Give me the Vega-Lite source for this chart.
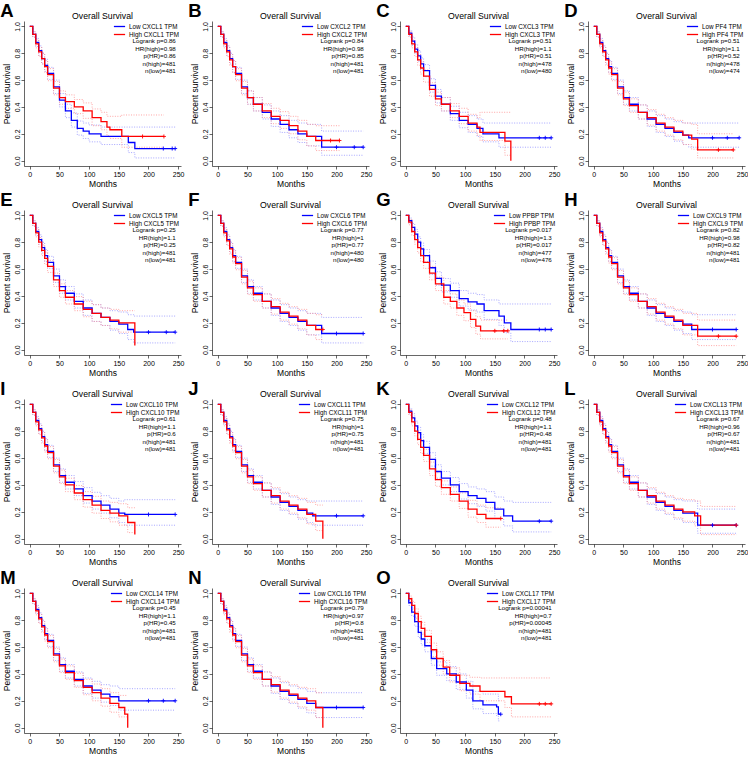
{
"$schema":"https://vega.github.io/schema/vega-lite/v6.json",
"padding":{"left":0,"top":2,"right":0,"bottom":0},
"background":"white",
"config":{
 "font":"Liberation Sans",
 "view":{"stroke":null},
 "axis":{"grid":false,"labelFontSize":7,"titleFontSize":8.5,"titleFontWeight":"normal","labelColor":"black","titleColor":"black","domainColor":"black","tickColor":"black","tickSize":3,"domainWidth":0.6,"tickWidth":0.6,"labelPadding":1,"labelFlush":false,"titlePadding":2},
 "axisY":{"labelAngle":-90},
 "legend":{"orient":"top-right","offset":1,"symbolType":"M-1.6,0H1.6","symbolSize":49,"symbolStrokeWidth":1.3,"labelFontSize":6.3,"labelColor":"black","rowPadding":0,"padding":0,"labelOffset":5}
},
"columns":4,
"spacing":{"row":44,"column":31},
"bounds":"flush",
"resolve":{"scale":{"color":"independent","stroke":"independent","x":"independent","y":"independent"},"legend":{"color":"independent"}},
"datasets":{
"km":[
{"p":"A","g":"L","t":0,"s":1,"u":1,"l":1},{"p":"A","g":"L","t":5,"s":0.94,"u":0.96,"l":0.92},{"p":"A","g":"L","t":10,"s":0.88,"u":0.91,"l":0.85},{"p":"A","g":"L","t":15,"s":0.82,"u":0.855,"l":0.785},{"p":"A","g":"L","t":20,"s":0.76,"u":0.8,"l":0.72},{"p":"A","g":"L","t":25,"s":0.71,"u":0.755,"l":0.665},{"p":"A","g":"L","t":30,"s":0.65,"u":0.695,"l":0.605},{"p":"A","g":"L","t":40,"s":0.55,"u":0.6,"l":0.5},{"p":"A","g":"L","t":50,"s":0.45,"u":0.5,"l":0.4},{"p":"A","g":"L","t":60,"s":0.37,"u":0.42,"l":0.32},{"p":"A","g":"L","t":70,"s":0.3,"u":0.355,"l":0.25},{"p":"A","g":"L","t":80,"s":0.24,"u":0.295,"l":0.19},{"p":"A","g":"L","t":90,"s":0.22,"u":0.28,"l":0.165},{"p":"A","g":"L","t":100,"s":0.2,"u":0.265,"l":0.14},{"p":"A","g":"L","t":120,"s":0.18,"u":0.25,"l":0.12},{"p":"A","g":"L","t":166,"s":0.135,"u":0.25,"l":0.06},{"p":"A","g":"L","t":177,"s":0.09,"u":0.25,"l":0.02},{"p":"A","g":"L","t":225,"s":0.09,"u":0.25,"l":0.02,"c":1},{"p":"A","g":"L","t":240,"s":0.09,"u":0.25,"l":0.02,"c":1},{"p":"A","g":"L","t":245,"s":0.09,"u":0.25,"l":0.02,"c":1},
{"p":"A","g":"H","t":0,"s":1,"u":1,"l":1},{"p":"A","g":"H","t":5,"s":0.94,"u":0.96,"l":0.92},{"p":"A","g":"H","t":10,"s":0.87,"u":0.9,"l":0.84},{"p":"A","g":"H","t":15,"s":0.81,"u":0.845,"l":0.775},{"p":"A","g":"H","t":20,"s":0.76,"u":0.8,"l":0.72},{"p":"A","g":"H","t":25,"s":0.7,"u":0.745,"l":0.655},{"p":"A","g":"H","t":30,"s":0.64,"u":0.685,"l":0.595},{"p":"A","g":"H","t":40,"s":0.54,"u":0.59,"l":0.49},{"p":"A","g":"H","t":50,"s":0.47,"u":0.52,"l":0.42},{"p":"A","g":"H","t":60,"s":0.44,"u":0.49,"l":0.39},{"p":"A","g":"H","t":75,"s":0.4,"u":0.455,"l":0.35},{"p":"A","g":"H","t":90,"s":0.37,"u":0.43,"l":0.315},{"p":"A","g":"H","t":105,"s":0.32,"u":0.385,"l":0.26},{"p":"A","g":"H","t":120,"s":0.29,"u":0.36,"l":0.23},{"p":"A","g":"H","t":130,"s":0.25,"u":0.33,"l":0.185},{"p":"A","g":"H","t":135,"s":0.23,"u":0.33,"l":0.165},{"p":"A","g":"H","t":155,"s":0.18,"u":0.34,"l":0.1},{"p":"A","g":"H","t":190,"s":0.18,"u":0.34,"l":0.1,"c":1},{"p":"A","g":"H","t":226,"s":0.18,"u":0.34,"l":0.1,"c":1},
{"p":"B","g":"L","t":0,"s":1,"u":1,"l":1},{"p":"B","g":"L","t":5,"s":0.94,"u":0.96,"l":0.92},{"p":"B","g":"L","t":10,"s":0.88,"u":0.91,"l":0.85},{"p":"B","g":"L","t":15,"s":0.82,"u":0.855,"l":0.785},{"p":"B","g":"L","t":20,"s":0.76,"u":0.8,"l":0.72},{"p":"B","g":"L","t":25,"s":0.7,"u":0.745,"l":0.655},{"p":"B","g":"L","t":30,"s":0.65,"u":0.695,"l":0.605},{"p":"B","g":"L","t":40,"s":0.55,"u":0.6,"l":0.5},{"p":"B","g":"L","t":50,"s":0.47,"u":0.52,"l":0.42},{"p":"B","g":"L","t":60,"s":0.42,"u":0.47,"l":0.37},{"p":"B","g":"L","t":75,"s":0.36,"u":0.415,"l":0.31},{"p":"B","g":"L","t":90,"s":0.31,"u":0.37,"l":0.255},{"p":"B","g":"L","t":105,"s":0.27,"u":0.335,"l":0.21},{"p":"B","g":"L","t":120,"s":0.23,"u":0.3,"l":0.17},{"p":"B","g":"L","t":135,"s":0.2,"u":0.28,"l":0.135},{"p":"B","g":"L","t":150,"s":0.18,"u":0.27,"l":0.11},{"p":"B","g":"L","t":175,"s":0.1,"u":0.22,"l":0.04},{"p":"B","g":"L","t":200,"s":0.1,"u":0.22,"l":0.04,"c":1},{"p":"B","g":"L","t":230,"s":0.1,"u":0.22,"l":0.04,"c":1},{"p":"B","g":"L","t":245,"s":0.1,"u":0.22,"l":0.04,"c":1},
{"p":"B","g":"H","t":0,"s":1,"u":1,"l":1},{"p":"B","g":"H","t":5,"s":0.94,"u":0.96,"l":0.92},{"p":"B","g":"H","t":10,"s":0.87,"u":0.9,"l":0.84},{"p":"B","g":"H","t":15,"s":0.81,"u":0.845,"l":0.775},{"p":"B","g":"H","t":20,"s":0.75,"u":0.79,"l":0.71},{"p":"B","g":"H","t":25,"s":0.7,"u":0.745,"l":0.655},{"p":"B","g":"H","t":30,"s":0.64,"u":0.685,"l":0.595},{"p":"B","g":"H","t":40,"s":0.54,"u":0.59,"l":0.49},{"p":"B","g":"H","t":50,"s":0.47,"u":0.52,"l":0.42},{"p":"B","g":"H","t":60,"s":0.42,"u":0.47,"l":0.37},{"p":"B","g":"H","t":75,"s":0.37,"u":0.425,"l":0.32},{"p":"B","g":"H","t":90,"s":0.33,"u":0.39,"l":0.275},{"p":"B","g":"H","t":105,"s":0.3,"u":0.365,"l":0.24},{"p":"B","g":"H","t":120,"s":0.26,"u":0.33,"l":0.2},{"p":"B","g":"H","t":135,"s":0.22,"u":0.3,"l":0.155},{"p":"B","g":"H","t":150,"s":0.18,"u":0.27,"l":0.11},{"p":"B","g":"H","t":165,"s":0.15,"u":0.26,"l":0.075},{"p":"B","g":"H","t":190,"s":0.15,"u":0.26,"l":0.075,"c":1},{"p":"B","g":"H","t":205,"s":0.15,"u":0.26,"l":0.075,"c":1},
{"p":"C","g":"L","t":0,"s":1,"u":1,"l":1},{"p":"C","g":"L","t":5,"s":0.95,"u":0.97,"l":0.93},{"p":"C","g":"L","t":10,"s":0.89,"u":0.92,"l":0.86},{"p":"C","g":"L","t":15,"s":0.83,"u":0.865,"l":0.795},{"p":"C","g":"L","t":20,"s":0.78,"u":0.82,"l":0.74},{"p":"C","g":"L","t":25,"s":0.72,"u":0.765,"l":0.675},{"p":"C","g":"L","t":30,"s":0.67,"u":0.715,"l":0.625},{"p":"C","g":"L","t":40,"s":0.56,"u":0.61,"l":0.51},{"p":"C","g":"L","t":50,"s":0.48,"u":0.53,"l":0.43},{"p":"C","g":"L","t":60,"s":0.42,"u":0.47,"l":0.37},{"p":"C","g":"L","t":75,"s":0.35,"u":0.405,"l":0.3},{"p":"C","g":"L","t":90,"s":0.3,"u":0.36,"l":0.245},{"p":"C","g":"L","t":105,"s":0.27,"u":0.335,"l":0.21},{"p":"C","g":"L","t":120,"s":0.24,"u":0.31,"l":0.18},{"p":"C","g":"L","t":130,"s":0.2,"u":0.28,"l":0.14},{"p":"C","g":"L","t":157,"s":0.17,"u":0.28,"l":0.1},{"p":"C","g":"L","t":225,"s":0.17,"u":0.28,"l":0.1,"c":1},{"p":"C","g":"L","t":235,"s":0.17,"u":0.28,"l":0.1,"c":1},{"p":"C","g":"L","t":245,"s":0.17,"u":0.28,"l":0.1,"c":1},
{"p":"C","g":"H","t":0,"s":1,"u":1,"l":1},{"p":"C","g":"H","t":5,"s":0.94,"u":0.96,"l":0.92},{"p":"C","g":"H","t":10,"s":0.87,"u":0.9,"l":0.84},{"p":"C","g":"H","t":15,"s":0.81,"u":0.845,"l":0.775},{"p":"C","g":"H","t":20,"s":0.75,"u":0.79,"l":0.71},{"p":"C","g":"H","t":25,"s":0.69,"u":0.735,"l":0.645},{"p":"C","g":"H","t":30,"s":0.63,"u":0.675,"l":0.585},{"p":"C","g":"H","t":40,"s":0.53,"u":0.58,"l":0.48},{"p":"C","g":"H","t":50,"s":0.46,"u":0.51,"l":0.41},{"p":"C","g":"H","t":60,"s":0.42,"u":0.47,"l":0.37},{"p":"C","g":"H","t":75,"s":0.37,"u":0.425,"l":0.32},{"p":"C","g":"H","t":90,"s":0.33,"u":0.39,"l":0.275},{"p":"C","g":"H","t":105,"s":0.28,"u":0.345,"l":0.22},{"p":"C","g":"H","t":120,"s":0.25,"u":0.32,"l":0.19},{"p":"C","g":"H","t":125,"s":0.21,"u":0.36,"l":0.15},{"p":"C","g":"H","t":167,"s":0.145,"u":0.36,"l":0.04},{"p":"C","g":"H","t":177,"s":0,"u":0.36,"l":0.04},
{"p":"D","g":"L","t":0,"s":1,"u":1,"l":1},{"p":"D","g":"L","t":5,"s":0.94,"u":0.96,"l":0.92},{"p":"D","g":"L","t":10,"s":0.88,"u":0.91,"l":0.85},{"p":"D","g":"L","t":15,"s":0.82,"u":0.855,"l":0.785},{"p":"D","g":"L","t":20,"s":0.76,"u":0.8,"l":0.72},{"p":"D","g":"L","t":25,"s":0.7,"u":0.745,"l":0.655},{"p":"D","g":"L","t":30,"s":0.65,"u":0.695,"l":0.605},{"p":"D","g":"L","t":40,"s":0.55,"u":0.6,"l":0.5},{"p":"D","g":"L","t":50,"s":0.47,"u":0.52,"l":0.42},{"p":"D","g":"L","t":60,"s":0.42,"u":0.47,"l":0.37},{"p":"D","g":"L","t":75,"s":0.36,"u":0.415,"l":0.31},{"p":"D","g":"L","t":90,"s":0.31,"u":0.37,"l":0.255},{"p":"D","g":"L","t":105,"s":0.27,"u":0.335,"l":0.21},{"p":"D","g":"L","t":120,"s":0.24,"u":0.31,"l":0.18},{"p":"D","g":"L","t":135,"s":0.21,"u":0.29,"l":0.145},{"p":"D","g":"L","t":150,"s":0.19,"u":0.28,"l":0.12},{"p":"D","g":"L","t":160,"s":0.17,"u":0.28,"l":0.1},{"p":"D","g":"L","t":200,"s":0.17,"u":0.28,"l":0.1,"c":1},{"p":"D","g":"L","t":225,"s":0.17,"u":0.28,"l":0.1,"c":1},{"p":"D","g":"L","t":245,"s":0.17,"u":0.28,"l":0.1,"c":1},
{"p":"D","g":"H","t":0,"s":1,"u":1,"l":1},{"p":"D","g":"H","t":5,"s":0.94,"u":0.96,"l":0.92},{"p":"D","g":"H","t":10,"s":0.87,"u":0.9,"l":0.84},{"p":"D","g":"H","t":15,"s":0.81,"u":0.845,"l":0.775},{"p":"D","g":"H","t":20,"s":0.75,"u":0.79,"l":0.71},{"p":"D","g":"H","t":25,"s":0.69,"u":0.735,"l":0.645},{"p":"D","g":"H","t":30,"s":0.64,"u":0.685,"l":0.595},{"p":"D","g":"H","t":40,"s":0.54,"u":0.59,"l":0.49},{"p":"D","g":"H","t":50,"s":0.46,"u":0.51,"l":0.41},{"p":"D","g":"H","t":60,"s":0.41,"u":0.46,"l":0.36},{"p":"D","g":"H","t":75,"s":0.36,"u":0.415,"l":0.31},{"p":"D","g":"H","t":90,"s":0.32,"u":0.38,"l":0.265},{"p":"D","g":"H","t":105,"s":0.28,"u":0.345,"l":0.22},{"p":"D","g":"H","t":120,"s":0.25,"u":0.32,"l":0.19},{"p":"D","g":"H","t":135,"s":0.22,"u":0.3,"l":0.155},{"p":"D","g":"H","t":150,"s":0.19,"u":0.28,"l":0.12},{"p":"D","g":"H","t":165,"s":0.16,"u":0.27,"l":0.085},{"p":"D","g":"H","t":175,"s":0.08,"u":0.2,"l":0.02},{"p":"D","g":"H","t":210,"s":0.08,"u":0.2,"l":0.02,"c":1},{"p":"D","g":"H","t":235,"s":0.08,"u":0.2,"l":0.02,"c":1},
{"p":"E","g":"L","t":0,"s":1,"u":1,"l":1},{"p":"E","g":"L","t":5,"s":0.94,"u":0.96,"l":0.92},{"p":"E","g":"L","t":10,"s":0.88,"u":0.91,"l":0.85},{"p":"E","g":"L","t":15,"s":0.82,"u":0.855,"l":0.785},{"p":"E","g":"L","t":20,"s":0.76,"u":0.8,"l":0.72},{"p":"E","g":"L","t":25,"s":0.7,"u":0.745,"l":0.655},{"p":"E","g":"L","t":30,"s":0.65,"u":0.695,"l":0.605},{"p":"E","g":"L","t":40,"s":0.55,"u":0.6,"l":0.5},{"p":"E","g":"L","t":50,"s":0.47,"u":0.52,"l":0.42},{"p":"E","g":"L","t":60,"s":0.42,"u":0.47,"l":0.37},{"p":"E","g":"L","t":75,"s":0.36,"u":0.415,"l":0.31},{"p":"E","g":"L","t":90,"s":0.31,"u":0.37,"l":0.255},{"p":"E","g":"L","t":105,"s":0.27,"u":0.335,"l":0.21},{"p":"E","g":"L","t":120,"s":0.24,"u":0.31,"l":0.18},{"p":"E","g":"L","t":135,"s":0.21,"u":0.29,"l":0.145},{"p":"E","g":"L","t":150,"s":0.19,"u":0.28,"l":0.12},{"p":"E","g":"L","t":165,"s":0.15,"u":0.26,"l":0.075},{"p":"E","g":"L","t":175,"s":0.13,"u":0.25,"l":0.05},{"p":"E","g":"L","t":200,"s":0.13,"u":0.25,"l":0.05,"c":1},{"p":"E","g":"L","t":230,"s":0.13,"u":0.25,"l":0.05,"c":1},{"p":"E","g":"L","t":245,"s":0.13,"u":0.25,"l":0.05,"c":1},
{"p":"E","g":"H","t":0,"s":1,"u":1,"l":1},{"p":"E","g":"H","t":5,"s":0.94,"u":0.96,"l":0.92},{"p":"E","g":"H","t":10,"s":0.87,"u":0.9,"l":0.84},{"p":"E","g":"H","t":15,"s":0.8,"u":0.835,"l":0.765},{"p":"E","g":"H","t":20,"s":0.74,"u":0.78,"l":0.7},{"p":"E","g":"H","t":25,"s":0.68,"u":0.725,"l":0.635},{"p":"E","g":"H","t":30,"s":0.62,"u":0.665,"l":0.575},{"p":"E","g":"H","t":40,"s":0.52,"u":0.57,"l":0.47},{"p":"E","g":"H","t":50,"s":0.44,"u":0.49,"l":0.39},{"p":"E","g":"H","t":60,"s":0.39,"u":0.44,"l":0.34},{"p":"E","g":"H","t":75,"s":0.34,"u":0.395,"l":0.29},{"p":"E","g":"H","t":90,"s":0.3,"u":0.36,"l":0.245},{"p":"E","g":"H","t":105,"s":0.27,"u":0.335,"l":0.21},{"p":"E","g":"H","t":120,"s":0.24,"u":0.31,"l":0.18},{"p":"E","g":"H","t":135,"s":0.22,"u":0.3,"l":0.155},{"p":"E","g":"H","t":150,"s":0.2,"u":0.29,"l":0.13},{"p":"E","g":"H","t":177,"s":0.03,"u":0.29,"l":0.13},
{"p":"F","g":"L","t":0,"s":1,"u":1,"l":1},{"p":"F","g":"L","t":5,"s":0.94,"u":0.96,"l":0.92},{"p":"F","g":"L","t":10,"s":0.88,"u":0.91,"l":0.85},{"p":"F","g":"L","t":15,"s":0.82,"u":0.855,"l":0.785},{"p":"F","g":"L","t":20,"s":0.76,"u":0.8,"l":0.72},{"p":"F","g":"L","t":25,"s":0.7,"u":0.745,"l":0.655},{"p":"F","g":"L","t":30,"s":0.65,"u":0.695,"l":0.605},{"p":"F","g":"L","t":40,"s":0.55,"u":0.6,"l":0.5},{"p":"F","g":"L","t":50,"s":0.47,"u":0.52,"l":0.42},{"p":"F","g":"L","t":60,"s":0.42,"u":0.47,"l":0.37},{"p":"F","g":"L","t":75,"s":0.36,"u":0.415,"l":0.31},{"p":"F","g":"L","t":90,"s":0.31,"u":0.37,"l":0.255},{"p":"F","g":"L","t":105,"s":0.27,"u":0.335,"l":0.21},{"p":"F","g":"L","t":120,"s":0.24,"u":0.31,"l":0.18},{"p":"F","g":"L","t":135,"s":0.21,"u":0.29,"l":0.145},{"p":"F","g":"L","t":150,"s":0.18,"u":0.27,"l":0.11},{"p":"F","g":"L","t":175,"s":0.12,"u":0.24,"l":0.05},{"p":"F","g":"L","t":200,"s":0.12,"u":0.24,"l":0.05,"c":1},{"p":"F","g":"L","t":245,"s":0.12,"u":0.24,"l":0.05,"c":1},
{"p":"F","g":"H","t":0,"s":1,"u":1,"l":1},{"p":"F","g":"H","t":5,"s":0.94,"u":0.96,"l":0.92},{"p":"F","g":"H","t":10,"s":0.87,"u":0.9,"l":0.84},{"p":"F","g":"H","t":15,"s":0.81,"u":0.845,"l":0.775},{"p":"F","g":"H","t":20,"s":0.75,"u":0.79,"l":0.71},{"p":"F","g":"H","t":25,"s":0.69,"u":0.735,"l":0.645},{"p":"F","g":"H","t":30,"s":0.64,"u":0.685,"l":0.595},{"p":"F","g":"H","t":40,"s":0.54,"u":0.59,"l":0.49},{"p":"F","g":"H","t":50,"s":0.46,"u":0.51,"l":0.41},{"p":"F","g":"H","t":60,"s":0.41,"u":0.46,"l":0.36},{"p":"F","g":"H","t":75,"s":0.36,"u":0.415,"l":0.31},{"p":"F","g":"H","t":90,"s":0.32,"u":0.38,"l":0.265},{"p":"F","g":"H","t":105,"s":0.28,"u":0.345,"l":0.22},{"p":"F","g":"H","t":120,"s":0.25,"u":0.32,"l":0.19},{"p":"F","g":"H","t":135,"s":0.22,"u":0.3,"l":0.155},{"p":"F","g":"H","t":150,"s":0.18,"u":0.27,"l":0.11},{"p":"F","g":"H","t":165,"s":0.15,"u":0.26,"l":0.075},{"p":"F","g":"H","t":177,"s":0.15,"u":0.26,"l":0.075,"c":1},
{"p":"G","g":"L","t":0,"s":1,"u":1,"l":1},{"p":"G","g":"L","t":5,"s":0.96,"u":0.98,"l":0.94},{"p":"G","g":"L","t":10,"s":0.91,"u":0.94,"l":0.88},{"p":"G","g":"L","t":15,"s":0.86,"u":0.895,"l":0.825},{"p":"G","g":"L","t":20,"s":0.8,"u":0.84,"l":0.76},{"p":"G","g":"L","t":25,"s":0.75,"u":0.795,"l":0.705},{"p":"G","g":"L","t":30,"s":0.7,"u":0.745,"l":0.655},{"p":"G","g":"L","t":40,"s":0.61,"u":0.66,"l":0.56},{"p":"G","g":"L","t":50,"s":0.53,"u":0.58,"l":0.48},{"p":"G","g":"L","t":60,"s":0.48,"u":0.53,"l":0.43},{"p":"G","g":"L","t":75,"s":0.44,"u":0.495,"l":0.39},{"p":"G","g":"L","t":90,"s":0.38,"u":0.44,"l":0.325},{"p":"G","g":"L","t":105,"s":0.355,"u":0.42,"l":0.295},{"p":"G","g":"L","t":120,"s":0.34,"u":0.41,"l":0.28},{"p":"G","g":"L","t":132,"s":0.29,"u":0.37,"l":0.225},{"p":"G","g":"L","t":157,"s":0.25,"u":0.34,"l":0.18},{"p":"G","g":"L","t":166,"s":0.2,"u":0.34,"l":0.125},{"p":"G","g":"L","t":177,"s":0.15,"u":0.34,"l":0.06},{"p":"G","g":"L","t":225,"s":0.15,"u":0.34,"l":0.06,"c":1},{"p":"G","g":"L","t":235,"s":0.15,"u":0.34,"l":0.06,"c":1},{"p":"G","g":"L","t":245,"s":0.15,"u":0.34,"l":0.06,"c":1},
{"p":"G","g":"H","t":0,"s":1,"u":1,"l":1},{"p":"G","g":"H","t":5,"s":0.95,"u":0.97,"l":0.93},{"p":"G","g":"H","t":10,"s":0.88,"u":0.91,"l":0.85},{"p":"G","g":"H","t":15,"s":0.82,"u":0.855,"l":0.785},{"p":"G","g":"H","t":20,"s":0.76,"u":0.8,"l":0.72},{"p":"G","g":"H","t":25,"s":0.7,"u":0.745,"l":0.655},{"p":"G","g":"H","t":30,"s":0.65,"u":0.695,"l":0.605},{"p":"G","g":"H","t":40,"s":0.57,"u":0.62,"l":0.52},{"p":"G","g":"H","t":50,"s":0.49,"u":0.54,"l":0.44},{"p":"G","g":"H","t":64,"s":0.39,"u":0.44,"l":0.34},{"p":"G","g":"H","t":75,"s":0.36,"u":0.415,"l":0.31},{"p":"G","g":"H","t":86,"s":0.31,"u":0.37,"l":0.255},{"p":"G","g":"H","t":98,"s":0.275,"u":0.34,"l":0.215},{"p":"G","g":"H","t":109,"s":0.225,"u":0.29,"l":0.165},{"p":"G","g":"H","t":118,"s":0.175,"u":0.245,"l":0.115},{"p":"G","g":"H","t":126,"s":0.14,"u":0.22,"l":0.08},{"p":"G","g":"H","t":150,"s":0.14,"u":0.22,"l":0.08,"c":1},{"p":"G","g":"H","t":165,"s":0.14,"u":0.22,"l":0.08,"c":1},{"p":"G","g":"H","t":172,"s":0.14,"u":0.22,"l":0.08,"c":1},
{"p":"H","g":"L","t":0,"s":1,"u":1,"l":1},{"p":"H","g":"L","t":5,"s":0.94,"u":0.96,"l":0.92},{"p":"H","g":"L","t":10,"s":0.88,"u":0.91,"l":0.85},{"p":"H","g":"L","t":15,"s":0.82,"u":0.855,"l":0.785},{"p":"H","g":"L","t":20,"s":0.76,"u":0.8,"l":0.72},{"p":"H","g":"L","t":25,"s":0.7,"u":0.745,"l":0.655},{"p":"H","g":"L","t":30,"s":0.65,"u":0.695,"l":0.605},{"p":"H","g":"L","t":40,"s":0.55,"u":0.6,"l":0.5},{"p":"H","g":"L","t":50,"s":0.47,"u":0.52,"l":0.42},{"p":"H","g":"L","t":60,"s":0.42,"u":0.47,"l":0.37},{"p":"H","g":"L","t":75,"s":0.36,"u":0.415,"l":0.31},{"p":"H","g":"L","t":90,"s":0.31,"u":0.37,"l":0.255},{"p":"H","g":"L","t":105,"s":0.27,"u":0.335,"l":0.21},{"p":"H","g":"L","t":120,"s":0.24,"u":0.31,"l":0.18},{"p":"H","g":"L","t":135,"s":0.21,"u":0.29,"l":0.145},{"p":"H","g":"L","t":150,"s":0.19,"u":0.28,"l":0.12},{"p":"H","g":"L","t":165,"s":0.15,"u":0.26,"l":0.075},{"p":"H","g":"L","t":200,"s":0.15,"u":0.26,"l":0.075,"c":1},{"p":"H","g":"L","t":240,"s":0.15,"u":0.26,"l":0.075,"c":1},
{"p":"H","g":"H","t":0,"s":1,"u":1,"l":1},{"p":"H","g":"H","t":5,"s":0.94,"u":0.96,"l":0.92},{"p":"H","g":"H","t":10,"s":0.87,"u":0.9,"l":0.84},{"p":"H","g":"H","t":15,"s":0.81,"u":0.845,"l":0.775},{"p":"H","g":"H","t":20,"s":0.75,"u":0.79,"l":0.71},{"p":"H","g":"H","t":25,"s":0.69,"u":0.735,"l":0.645},{"p":"H","g":"H","t":30,"s":0.64,"u":0.685,"l":0.595},{"p":"H","g":"H","t":40,"s":0.54,"u":0.59,"l":0.49},{"p":"H","g":"H","t":50,"s":0.46,"u":0.51,"l":0.41},{"p":"H","g":"H","t":60,"s":0.41,"u":0.46,"l":0.36},{"p":"H","g":"H","t":75,"s":0.36,"u":0.415,"l":0.31},{"p":"H","g":"H","t":90,"s":0.32,"u":0.38,"l":0.265},{"p":"H","g":"H","t":105,"s":0.28,"u":0.345,"l":0.22},{"p":"H","g":"H","t":120,"s":0.25,"u":0.32,"l":0.19},{"p":"H","g":"H","t":135,"s":0.22,"u":0.3,"l":0.155},{"p":"H","g":"H","t":150,"s":0.18,"u":0.27,"l":0.11},{"p":"H","g":"H","t":175,"s":0.1,"u":0.22,"l":0.03},{"p":"H","g":"H","t":210,"s":0.1,"u":0.22,"l":0.03,"c":1},{"p":"H","g":"H","t":240,"s":0.1,"u":0.22,"l":0.03,"c":1},
{"p":"I","g":"L","t":0,"s":1,"u":1,"l":1},{"p":"I","g":"L","t":5,"s":0.94,"u":0.96,"l":0.92},{"p":"I","g":"L","t":10,"s":0.88,"u":0.91,"l":0.85},{"p":"I","g":"L","t":15,"s":0.82,"u":0.855,"l":0.785},{"p":"I","g":"L","t":20,"s":0.76,"u":0.8,"l":0.72},{"p":"I","g":"L","t":25,"s":0.7,"u":0.745,"l":0.655},{"p":"I","g":"L","t":30,"s":0.65,"u":0.695,"l":0.605},{"p":"I","g":"L","t":40,"s":0.55,"u":0.6,"l":0.5},{"p":"I","g":"L","t":50,"s":0.47,"u":0.52,"l":0.42},{"p":"I","g":"L","t":60,"s":0.42,"u":0.47,"l":0.37},{"p":"I","g":"L","t":75,"s":0.37,"u":0.425,"l":0.32},{"p":"I","g":"L","t":90,"s":0.32,"u":0.38,"l":0.265},{"p":"I","g":"L","t":105,"s":0.28,"u":0.345,"l":0.22},{"p":"I","g":"L","t":120,"s":0.25,"u":0.32,"l":0.19},{"p":"I","g":"L","t":135,"s":0.22,"u":0.3,"l":0.155},{"p":"I","g":"L","t":150,"s":0.19,"u":0.28,"l":0.12},{"p":"I","g":"L","t":160,"s":0.18,"u":0.29,"l":0.1},{"p":"I","g":"L","t":200,"s":0.18,"u":0.29,"l":0.1,"c":1},{"p":"I","g":"L","t":245,"s":0.18,"u":0.29,"l":0.1,"c":1},
{"p":"I","g":"H","t":0,"s":1,"u":1,"l":1},{"p":"I","g":"H","t":5,"s":0.94,"u":0.96,"l":0.92},{"p":"I","g":"H","t":10,"s":0.87,"u":0.9,"l":0.84},{"p":"I","g":"H","t":15,"s":0.81,"u":0.845,"l":0.775},{"p":"I","g":"H","t":20,"s":0.75,"u":0.79,"l":0.71},{"p":"I","g":"H","t":25,"s":0.69,"u":0.735,"l":0.645},{"p":"I","g":"H","t":30,"s":0.64,"u":0.685,"l":0.595},{"p":"I","g":"H","t":40,"s":0.54,"u":0.59,"l":0.49},{"p":"I","g":"H","t":50,"s":0.46,"u":0.51,"l":0.41},{"p":"I","g":"H","t":60,"s":0.4,"u":0.45,"l":0.35},{"p":"I","g":"H","t":75,"s":0.34,"u":0.395,"l":0.29},{"p":"I","g":"H","t":90,"s":0.29,"u":0.35,"l":0.235},{"p":"I","g":"H","t":105,"s":0.25,"u":0.315,"l":0.19},{"p":"I","g":"H","t":120,"s":0.21,"u":0.28,"l":0.15},{"p":"I","g":"H","t":135,"s":0.19,"u":0.27,"l":0.125},{"p":"I","g":"H","t":150,"s":0.17,"u":0.26,"l":0.1},{"p":"I","g":"H","t":165,"s":0.12,"u":0.23,"l":0.045},{"p":"I","g":"H","t":177,"s":0.03,"u":0.23,"l":0.045},
{"p":"J","g":"L","t":0,"s":1,"u":1,"l":1},{"p":"J","g":"L","t":5,"s":0.94,"u":0.96,"l":0.92},{"p":"J","g":"L","t":10,"s":0.88,"u":0.91,"l":0.85},{"p":"J","g":"L","t":15,"s":0.82,"u":0.855,"l":0.785},{"p":"J","g":"L","t":20,"s":0.76,"u":0.8,"l":0.72},{"p":"J","g":"L","t":25,"s":0.7,"u":0.745,"l":0.655},{"p":"J","g":"L","t":30,"s":0.65,"u":0.695,"l":0.605},{"p":"J","g":"L","t":40,"s":0.55,"u":0.6,"l":0.5},{"p":"J","g":"L","t":50,"s":0.47,"u":0.52,"l":0.42},{"p":"J","g":"L","t":60,"s":0.42,"u":0.47,"l":0.37},{"p":"J","g":"L","t":75,"s":0.36,"u":0.415,"l":0.31},{"p":"J","g":"L","t":90,"s":0.31,"u":0.37,"l":0.255},{"p":"J","g":"L","t":105,"s":0.27,"u":0.335,"l":0.21},{"p":"J","g":"L","t":120,"s":0.24,"u":0.31,"l":0.18},{"p":"J","g":"L","t":135,"s":0.21,"u":0.29,"l":0.145},{"p":"J","g":"L","t":150,"s":0.19,"u":0.28,"l":0.12},{"p":"J","g":"L","t":160,"s":0.17,"u":0.28,"l":0.1},{"p":"J","g":"L","t":200,"s":0.17,"u":0.28,"l":0.1,"c":1},{"p":"J","g":"L","t":245,"s":0.17,"u":0.28,"l":0.1,"c":1},
{"p":"J","g":"H","t":0,"s":1,"u":1,"l":1},{"p":"J","g":"H","t":5,"s":0.94,"u":0.96,"l":0.92},{"p":"J","g":"H","t":10,"s":0.87,"u":0.9,"l":0.84},{"p":"J","g":"H","t":15,"s":0.81,"u":0.845,"l":0.775},{"p":"J","g":"H","t":20,"s":0.75,"u":0.79,"l":0.71},{"p":"J","g":"H","t":25,"s":0.69,"u":0.735,"l":0.645},{"p":"J","g":"H","t":30,"s":0.64,"u":0.685,"l":0.595},{"p":"J","g":"H","t":40,"s":0.54,"u":0.59,"l":0.49},{"p":"J","g":"H","t":50,"s":0.46,"u":0.51,"l":0.41},{"p":"J","g":"H","t":60,"s":0.41,"u":0.46,"l":0.36},{"p":"J","g":"H","t":75,"s":0.36,"u":0.415,"l":0.31},{"p":"J","g":"H","t":90,"s":0.32,"u":0.38,"l":0.265},{"p":"J","g":"H","t":105,"s":0.28,"u":0.345,"l":0.22},{"p":"J","g":"H","t":120,"s":0.25,"u":0.32,"l":0.19},{"p":"J","g":"H","t":135,"s":0.22,"u":0.3,"l":0.155},{"p":"J","g":"H","t":150,"s":0.18,"u":0.27,"l":0.11},{"p":"J","g":"H","t":165,"s":0.13,"u":0.25,"l":0.06},{"p":"J","g":"H","t":177,"s":0,"u":0.25,"l":0.06},
{"p":"K","g":"L","t":0,"s":1,"u":1,"l":1},{"p":"K","g":"L","t":5,"s":0.95,"u":0.97,"l":0.93},{"p":"K","g":"L","t":10,"s":0.9,"u":0.93,"l":0.87},{"p":"K","g":"L","t":15,"s":0.84,"u":0.875,"l":0.805},{"p":"K","g":"L","t":20,"s":0.79,"u":0.83,"l":0.75},{"p":"K","g":"L","t":25,"s":0.73,"u":0.775,"l":0.685},{"p":"K","g":"L","t":30,"s":0.68,"u":0.725,"l":0.635},{"p":"K","g":"L","t":40,"s":0.59,"u":0.64,"l":0.54},{"p":"K","g":"L","t":50,"s":0.5,"u":0.55,"l":0.45},{"p":"K","g":"L","t":60,"s":0.45,"u":0.5,"l":0.4},{"p":"K","g":"L","t":75,"s":0.4,"u":0.455,"l":0.35},{"p":"K","g":"L","t":90,"s":0.35,"u":0.41,"l":0.295},{"p":"K","g":"L","t":105,"s":0.32,"u":0.385,"l":0.26},{"p":"K","g":"L","t":120,"s":0.3,"u":0.37,"l":0.24},{"p":"K","g":"L","t":135,"s":0.27,"u":0.35,"l":0.205},{"p":"K","g":"L","t":150,"s":0.22,"u":0.31,"l":0.15},{"p":"K","g":"L","t":165,"s":0.17,"u":0.28,"l":0.095},{"p":"K","g":"L","t":180,"s":0.13,"u":0.27,"l":0.05},{"p":"K","g":"L","t":225,"s":0.13,"u":0.27,"l":0.05,"c":1},{"p":"K","g":"L","t":245,"s":0.13,"u":0.27,"l":0.05,"c":1},
{"p":"K","g":"H","t":0,"s":1,"u":1,"l":1},{"p":"K","g":"H","t":5,"s":0.94,"u":0.96,"l":0.92},{"p":"K","g":"H","t":10,"s":0.87,"u":0.9,"l":0.84},{"p":"K","g":"H","t":15,"s":0.8,"u":0.835,"l":0.765},{"p":"K","g":"H","t":20,"s":0.74,"u":0.78,"l":0.7},{"p":"K","g":"H","t":25,"s":0.68,"u":0.725,"l":0.635},{"p":"K","g":"H","t":30,"s":0.62,"u":0.665,"l":0.575},{"p":"K","g":"H","t":40,"s":0.52,"u":0.57,"l":0.47},{"p":"K","g":"H","t":50,"s":0.44,"u":0.49,"l":0.39},{"p":"K","g":"H","t":60,"s":0.38,"u":0.43,"l":0.33},{"p":"K","g":"H","t":75,"s":0.33,"u":0.385,"l":0.28},{"p":"K","g":"H","t":90,"s":0.28,"u":0.34,"l":0.225},{"p":"K","g":"H","t":105,"s":0.22,"u":0.285,"l":0.16},{"p":"K","g":"H","t":120,"s":0.18,"u":0.25,"l":0.12},{"p":"K","g":"H","t":135,"s":0.15,"u":0.23,"l":0.085},{"p":"K","g":"H","t":160,"s":0.15,"u":0.23,"l":0.085,"c":1},
{"p":"L","g":"L","t":0,"s":1,"u":1,"l":1},{"p":"L","g":"L","t":5,"s":0.94,"u":0.96,"l":0.92},{"p":"L","g":"L","t":10,"s":0.88,"u":0.91,"l":0.85},{"p":"L","g":"L","t":15,"s":0.82,"u":0.855,"l":0.785},{"p":"L","g":"L","t":20,"s":0.76,"u":0.8,"l":0.72},{"p":"L","g":"L","t":25,"s":0.7,"u":0.745,"l":0.655},{"p":"L","g":"L","t":30,"s":0.65,"u":0.695,"l":0.605},{"p":"L","g":"L","t":40,"s":0.55,"u":0.6,"l":0.5},{"p":"L","g":"L","t":50,"s":0.47,"u":0.52,"l":0.42},{"p":"L","g":"L","t":60,"s":0.42,"u":0.47,"l":0.37},{"p":"L","g":"L","t":75,"s":0.36,"u":0.415,"l":0.31},{"p":"L","g":"L","t":90,"s":0.31,"u":0.37,"l":0.255},{"p":"L","g":"L","t":105,"s":0.27,"u":0.335,"l":0.21},{"p":"L","g":"L","t":120,"s":0.24,"u":0.31,"l":0.18},{"p":"L","g":"L","t":135,"s":0.21,"u":0.29,"l":0.145},{"p":"L","g":"L","t":150,"s":0.19,"u":0.28,"l":0.12},{"p":"L","g":"L","t":175,"s":0.1,"u":0.22,"l":0.04},{"p":"L","g":"L","t":200,"s":0.1,"u":0.22,"l":0.04,"c":1},{"p":"L","g":"L","t":240,"s":0.1,"u":0.22,"l":0.04,"c":1},
{"p":"L","g":"H","t":0,"s":1,"u":1,"l":1},{"p":"L","g":"H","t":5,"s":0.94,"u":0.96,"l":0.92},{"p":"L","g":"H","t":10,"s":0.87,"u":0.9,"l":0.84},{"p":"L","g":"H","t":15,"s":0.81,"u":0.845,"l":0.775},{"p":"L","g":"H","t":20,"s":0.75,"u":0.79,"l":0.71},{"p":"L","g":"H","t":25,"s":0.69,"u":0.735,"l":0.645},{"p":"L","g":"H","t":30,"s":0.64,"u":0.685,"l":0.595},{"p":"L","g":"H","t":40,"s":0.54,"u":0.59,"l":0.49},{"p":"L","g":"H","t":50,"s":0.46,"u":0.51,"l":0.41},{"p":"L","g":"H","t":60,"s":0.41,"u":0.46,"l":0.36},{"p":"L","g":"H","t":75,"s":0.36,"u":0.415,"l":0.31},{"p":"L","g":"H","t":90,"s":0.32,"u":0.38,"l":0.265},{"p":"L","g":"H","t":105,"s":0.28,"u":0.345,"l":0.22},{"p":"L","g":"H","t":120,"s":0.25,"u":0.32,"l":0.19},{"p":"L","g":"H","t":135,"s":0.22,"u":0.3,"l":0.155},{"p":"L","g":"H","t":150,"s":0.2,"u":0.29,"l":0.13},{"p":"L","g":"H","t":170,"s":0.17,"u":0.28,"l":0.095},{"p":"L","g":"H","t":180,"s":0.1,"u":0.24,"l":0.03},{"p":"L","g":"H","t":240,"s":0.1,"u":0.24,"l":0.03,"c":1},
{"p":"M","g":"L","t":0,"s":1,"u":1,"l":1},{"p":"M","g":"L","t":5,"s":0.94,"u":0.96,"l":0.92},{"p":"M","g":"L","t":10,"s":0.88,"u":0.91,"l":0.85},{"p":"M","g":"L","t":15,"s":0.82,"u":0.855,"l":0.785},{"p":"M","g":"L","t":20,"s":0.76,"u":0.8,"l":0.72},{"p":"M","g":"L","t":25,"s":0.7,"u":0.745,"l":0.655},{"p":"M","g":"L","t":30,"s":0.65,"u":0.695,"l":0.605},{"p":"M","g":"L","t":40,"s":0.55,"u":0.6,"l":0.5},{"p":"M","g":"L","t":50,"s":0.47,"u":0.52,"l":0.42},{"p":"M","g":"L","t":60,"s":0.42,"u":0.47,"l":0.37},{"p":"M","g":"L","t":75,"s":0.36,"u":0.415,"l":0.31},{"p":"M","g":"L","t":90,"s":0.31,"u":0.37,"l":0.255},{"p":"M","g":"L","t":105,"s":0.28,"u":0.345,"l":0.22},{"p":"M","g":"L","t":120,"s":0.25,"u":0.32,"l":0.19},{"p":"M","g":"L","t":135,"s":0.23,"u":0.31,"l":0.165},{"p":"M","g":"L","t":150,"s":0.2,"u":0.29,"l":0.13},{"p":"M","g":"L","t":200,"s":0.2,"u":0.29,"l":0.13,"c":1},{"p":"M","g":"L","t":225,"s":0.2,"u":0.29,"l":0.13,"c":1},{"p":"M","g":"L","t":245,"s":0.2,"u":0.29,"l":0.13,"c":1},
{"p":"M","g":"H","t":0,"s":1,"u":1,"l":1},{"p":"M","g":"H","t":5,"s":0.94,"u":0.96,"l":0.92},{"p":"M","g":"H","t":10,"s":0.87,"u":0.9,"l":0.84},{"p":"M","g":"H","t":15,"s":0.81,"u":0.845,"l":0.775},{"p":"M","g":"H","t":20,"s":0.75,"u":0.79,"l":0.71},{"p":"M","g":"H","t":25,"s":0.69,"u":0.735,"l":0.645},{"p":"M","g":"H","t":30,"s":0.64,"u":0.685,"l":0.595},{"p":"M","g":"H","t":40,"s":0.54,"u":0.59,"l":0.49},{"p":"M","g":"H","t":50,"s":0.46,"u":0.51,"l":0.41},{"p":"M","g":"H","t":60,"s":0.41,"u":0.46,"l":0.36},{"p":"M","g":"H","t":75,"s":0.35,"u":0.405,"l":0.3},{"p":"M","g":"H","t":90,"s":0.3,"u":0.36,"l":0.245},{"p":"M","g":"H","t":105,"s":0.26,"u":0.325,"l":0.2},{"p":"M","g":"H","t":120,"s":0.22,"u":0.29,"l":0.16},{"p":"M","g":"H","t":135,"s":0.18,"u":0.26,"l":0.115},{"p":"M","g":"H","t":150,"s":0.15,"u":0.24,"l":0.08},{"p":"M","g":"H","t":160,"s":0.1,"u":0.24,"l":0.08},{"p":"M","g":"H","t":165,"s":0,"u":0.24,"l":0.08},
{"p":"N","g":"L","t":0,"s":1,"u":1,"l":1},{"p":"N","g":"L","t":5,"s":0.94,"u":0.96,"l":0.92},{"p":"N","g":"L","t":10,"s":0.88,"u":0.91,"l":0.85},{"p":"N","g":"L","t":15,"s":0.82,"u":0.855,"l":0.785},{"p":"N","g":"L","t":20,"s":0.76,"u":0.8,"l":0.72},{"p":"N","g":"L","t":25,"s":0.7,"u":0.745,"l":0.655},{"p":"N","g":"L","t":30,"s":0.65,"u":0.695,"l":0.605},{"p":"N","g":"L","t":40,"s":0.55,"u":0.6,"l":0.5},{"p":"N","g":"L","t":50,"s":0.47,"u":0.52,"l":0.42},{"p":"N","g":"L","t":60,"s":0.42,"u":0.47,"l":0.37},{"p":"N","g":"L","t":75,"s":0.36,"u":0.415,"l":0.31},{"p":"N","g":"L","t":90,"s":0.31,"u":0.37,"l":0.255},{"p":"N","g":"L","t":105,"s":0.27,"u":0.335,"l":0.21},{"p":"N","g":"L","t":120,"s":0.24,"u":0.31,"l":0.18},{"p":"N","g":"L","t":135,"s":0.21,"u":0.29,"l":0.145},{"p":"N","g":"L","t":150,"s":0.18,"u":0.27,"l":0.11},{"p":"N","g":"L","t":165,"s":0.15,"u":0.26,"l":0.075},{"p":"N","g":"L","t":200,"s":0.15,"u":0.26,"l":0.075,"c":1},{"p":"N","g":"L","t":245,"s":0.15,"u":0.26,"l":0.075,"c":1},
{"p":"N","g":"H","t":0,"s":1,"u":1,"l":1},{"p":"N","g":"H","t":5,"s":0.94,"u":0.96,"l":0.92},{"p":"N","g":"H","t":10,"s":0.87,"u":0.9,"l":0.84},{"p":"N","g":"H","t":15,"s":0.81,"u":0.845,"l":0.775},{"p":"N","g":"H","t":20,"s":0.75,"u":0.79,"l":0.71},{"p":"N","g":"H","t":25,"s":0.69,"u":0.735,"l":0.645},{"p":"N","g":"H","t":30,"s":0.64,"u":0.685,"l":0.595},{"p":"N","g":"H","t":40,"s":0.54,"u":0.59,"l":0.49},{"p":"N","g":"H","t":50,"s":0.46,"u":0.51,"l":0.41},{"p":"N","g":"H","t":60,"s":0.41,"u":0.46,"l":0.36},{"p":"N","g":"H","t":75,"s":0.36,"u":0.415,"l":0.31},{"p":"N","g":"H","t":90,"s":0.32,"u":0.38,"l":0.265},{"p":"N","g":"H","t":105,"s":0.28,"u":0.345,"l":0.22},{"p":"N","g":"H","t":120,"s":0.25,"u":0.32,"l":0.19},{"p":"N","g":"H","t":135,"s":0.22,"u":0.3,"l":0.155},{"p":"N","g":"H","t":150,"s":0.2,"u":0.29,"l":0.13},{"p":"N","g":"H","t":165,"s":0.15,"u":0.26,"l":0.075},{"p":"N","g":"H","t":177,"s":0,"u":0.26,"l":0.075},
{"p":"O","g":"L","t":0,"s":1,"u":1,"l":1},{"p":"O","g":"L","t":5,"s":0.93,"u":0.95,"l":0.91},{"p":"O","g":"L","t":10,"s":0.86,"u":0.89,"l":0.83},{"p":"O","g":"L","t":15,"s":0.79,"u":0.825,"l":0.755},{"p":"O","g":"L","t":21,"s":0.71,"u":0.75,"l":0.67},{"p":"O","g":"L","t":26,"s":0.66,"u":0.705,"l":0.615},{"p":"O","g":"L","t":32,"s":0.61,"u":0.655,"l":0.565},{"p":"O","g":"L","t":43,"s":0.515,"u":0.565,"l":0.465},{"p":"O","g":"L","t":52,"s":0.44,"u":0.49,"l":0.39},{"p":"O","g":"L","t":69,"s":0.4,"u":0.455,"l":0.35},{"p":"O","g":"L","t":85,"s":0.34,"u":0.4,"l":0.285},{"p":"O","g":"L","t":102,"s":0.28,"u":0.345,"l":0.22},{"p":"O","g":"L","t":113,"s":0.2,"u":0.27,"l":0.14},{"p":"O","g":"L","t":130,"s":0.17,"u":0.25,"l":0.105},{"p":"O","g":"L","t":153,"s":0.155,"u":0.25,"l":0.09},{"p":"O","g":"L","t":156,"s":0.1,"u":0.2,"l":0.05},{"p":"O","g":"L","t":160,"s":0.1,"u":0.2,"l":0.05,"c":1},
{"p":"O","g":"H","t":0,"s":1,"u":1,"l":1},{"p":"O","g":"H","t":5,"s":0.96,"u":0.98,"l":0.94},{"p":"O","g":"H","t":10,"s":0.91,"u":0.94,"l":0.88},{"p":"O","g":"H","t":15,"s":0.85,"u":0.885,"l":0.815},{"p":"O","g":"H","t":21,"s":0.79,"u":0.83,"l":0.75},{"p":"O","g":"H","t":26,"s":0.74,"u":0.785,"l":0.695},{"p":"O","g":"H","t":32,"s":0.68,"u":0.725,"l":0.635},{"p":"O","g":"H","t":43,"s":0.58,"u":0.63,"l":0.53},{"p":"O","g":"H","t":52,"s":0.515,"u":0.565,"l":0.465},{"p":"O","g":"H","t":63,"s":0.45,"u":0.5,"l":0.4},{"p":"O","g":"H","t":74,"s":0.39,"u":0.445,"l":0.34},{"p":"O","g":"H","t":91,"s":0.33,"u":0.39,"l":0.275},{"p":"O","g":"H","t":108,"s":0.31,"u":0.375,"l":0.25},{"p":"O","g":"H","t":125,"s":0.27,"u":0.37,"l":0.2},{"p":"O","g":"H","t":167,"s":0.23,"u":0.37,"l":0.15},{"p":"O","g":"H","t":178,"s":0.177,"u":0.37,"l":0.08},{"p":"O","g":"H","t":225,"s":0.177,"u":0.37,"l":0.08,"c":1},{"p":"O","g":"H","t":235,"s":0.177,"u":0.37,"l":0.08,"c":1},{"p":"O","g":"H","t":245,"s":0.177,"u":0.37,"l":0.08,"c":1}
]
},
"concat":[
{"width":157,"height":145,"data":{"name":"km"},"transform":[{"filter":"datum.p=='A'"}],"encoding":{"x":{"field":"t","type":"quantitative","scale":{"domain":[-9.8,254.8],"nice":false,"zero":false},"axis":{"values":[0,50,100,150,200,250],"title":"Months"}},"y":{"field":"s","type":"quantitative","scale":{"domain":[-0.04,1.04],"nice":false,"zero":false},"axis":{"values":[0,0.2,0.4,0.6,0.8,1],"format":".1f","title":"Percent survival"}}},"layer":[
{"mark":{"type":"line","interpolate":"step-after","strokeDash":[1,1.5],"strokeWidth":0.8},"encoding":{"y":{"field":"u","type":"quantitative"},"stroke":{"field":"g","type":"nominal","scale":{"domain":["H","L"],"range":["#ff8f8f","#8f8fff"]},"legend":null}}},
{"mark":{"type":"line","interpolate":"step-after","strokeDash":[1,1.5],"strokeWidth":0.8},"encoding":{"y":{"field":"l","type":"quantitative"},"stroke":{"field":"g","type":"nominal","scale":{"domain":["H","L"],"range":["#ff8f8f","#8f8fff"]},"legend":null}}},
{"mark":{"type":"line","interpolate":"step-after","strokeWidth":1.3},"encoding":{"color":{"field":"g","type":"nominal","scale":{"domain":["L","H"],"range":["#0000ff","#ff0000"]},"legend":{"title":null,"labelExpr":"(datum.label=='L'?'Low':'High')+' CXCL1 TPM'"}}}},
{"transform":[{"filter":"datum.c==1"}],"mark":{"type":"point","shape":"M0,-1V1M-1,0H1","size":16,"filled":false,"strokeWidth":0.9,"opacity":1},"encoding":{"color":{"field":"g","type":"nominal","scale":{"domain":["L","H"],"range":["#0000ff","#ff0000"]},"legend":{"title":null,"labelExpr":"(datum.label=='L'?'Low':'High')+' CXCL1 TPM'"}}}},
{"transform":[{"filter":"datum.t==0 && datum.g=='L'"}],"mark":{"type":"text","align":"right","baseline":"top","fontSize":6.2,"lineHeight":7.5,"color":"black","text":["Logrank p=0.86","HR(high)=0.98","p(HR)=0.86","n(high)=481","n(low)=481"]},"encoding":{"x":{"datum":246},"y":{"datum":0.91}}},
{"transform":[{"filter":"datum.t==0 && datum.g=='L'"}],"mark":{"type":"text","align":"center","baseline":"alphabetic","fontSize":8.7,"color":"black","text":"Overall Survival"},"encoding":{"x":{"datum":122.5},"y":{"datum":1.052}}},
{"transform":[{"filter":"datum.t==0 && datum.g=='L'"}],"mark":{"type":"text","align":"left","baseline":"alphabetic","fontSize":18.5,"fontWeight":"bold","color":"black","text":"A"},"encoding":{"x":{"datum":-50},"y":{"datum":1.067}}}
]},
{"width":157,"height":145,"data":{"name":"km"},"transform":[{"filter":"datum.p=='B'"}],"encoding":{"x":{"field":"t","type":"quantitative","scale":{"domain":[-9.8,254.8],"nice":false,"zero":false},"axis":{"values":[0,50,100,150,200,250],"title":"Months"}},"y":{"field":"s","type":"quantitative","scale":{"domain":[-0.04,1.04],"nice":false,"zero":false},"axis":{"values":[0,0.2,0.4,0.6,0.8,1],"format":".1f","title":"Percent survival"}}},"layer":[
{"mark":{"type":"line","interpolate":"step-after","strokeDash":[1,1.5],"strokeWidth":0.8},"encoding":{"y":{"field":"u","type":"quantitative"},"stroke":{"field":"g","type":"nominal","scale":{"domain":["H","L"],"range":["#ff8f8f","#8f8fff"]},"legend":null}}},
{"mark":{"type":"line","interpolate":"step-after","strokeDash":[1,1.5],"strokeWidth":0.8},"encoding":{"y":{"field":"l","type":"quantitative"},"stroke":{"field":"g","type":"nominal","scale":{"domain":["H","L"],"range":["#ff8f8f","#8f8fff"]},"legend":null}}},
{"mark":{"type":"line","interpolate":"step-after","strokeWidth":1.3},"encoding":{"color":{"field":"g","type":"nominal","scale":{"domain":["L","H"],"range":["#0000ff","#ff0000"]},"legend":{"title":null,"labelExpr":"(datum.label=='L'?'Low':'High')+' CXCL2 TPM'"}}}},
{"transform":[{"filter":"datum.c==1"}],"mark":{"type":"point","shape":"M0,-1V1M-1,0H1","size":16,"filled":false,"strokeWidth":0.9,"opacity":1},"encoding":{"color":{"field":"g","type":"nominal","scale":{"domain":["L","H"],"range":["#0000ff","#ff0000"]},"legend":{"title":null,"labelExpr":"(datum.label=='L'?'Low':'High')+' CXCL2 TPM'"}}}},
{"transform":[{"filter":"datum.t==0 && datum.g=='L'"}],"mark":{"type":"text","align":"right","baseline":"top","fontSize":6.2,"lineHeight":7.5,"color":"black","text":["Logrank p=0.84","HR(high)=0.98","p(HR)=0.85","n(high)=481","n(low)=481"]},"encoding":{"x":{"datum":246},"y":{"datum":0.91}}},
{"transform":[{"filter":"datum.t==0 && datum.g=='L'"}],"mark":{"type":"text","align":"center","baseline":"alphabetic","fontSize":8.7,"color":"black","text":"Overall Survival"},"encoding":{"x":{"datum":122.5},"y":{"datum":1.052}}},
{"transform":[{"filter":"datum.t==0 && datum.g=='L'"}],"mark":{"type":"text","align":"left","baseline":"alphabetic","fontSize":18.5,"fontWeight":"bold","color":"black","text":"B"},"encoding":{"x":{"datum":-50},"y":{"datum":1.067}}}
]},
{"width":157,"height":145,"data":{"name":"km"},"transform":[{"filter":"datum.p=='C'"}],"encoding":{"x":{"field":"t","type":"quantitative","scale":{"domain":[-9.8,254.8],"nice":false,"zero":false},"axis":{"values":[0,50,100,150,200,250],"title":"Months"}},"y":{"field":"s","type":"quantitative","scale":{"domain":[-0.04,1.04],"nice":false,"zero":false},"axis":{"values":[0,0.2,0.4,0.6,0.8,1],"format":".1f","title":"Percent survival"}}},"layer":[
{"mark":{"type":"line","interpolate":"step-after","strokeDash":[1,1.5],"strokeWidth":0.8},"encoding":{"y":{"field":"u","type":"quantitative"},"stroke":{"field":"g","type":"nominal","scale":{"domain":["H","L"],"range":["#ff8f8f","#8f8fff"]},"legend":null}}},
{"mark":{"type":"line","interpolate":"step-after","strokeDash":[1,1.5],"strokeWidth":0.8},"encoding":{"y":{"field":"l","type":"quantitative"},"stroke":{"field":"g","type":"nominal","scale":{"domain":["H","L"],"range":["#ff8f8f","#8f8fff"]},"legend":null}}},
{"mark":{"type":"line","interpolate":"step-after","strokeWidth":1.3},"encoding":{"color":{"field":"g","type":"nominal","scale":{"domain":["L","H"],"range":["#0000ff","#ff0000"]},"legend":{"title":null,"labelExpr":"(datum.label=='L'?'Low':'High')+' CXCL3 TPM'"}}}},
{"transform":[{"filter":"datum.c==1"}],"mark":{"type":"point","shape":"M0,-1V1M-1,0H1","size":16,"filled":false,"strokeWidth":0.9,"opacity":1},"encoding":{"color":{"field":"g","type":"nominal","scale":{"domain":["L","H"],"range":["#0000ff","#ff0000"]},"legend":{"title":null,"labelExpr":"(datum.label=='L'?'Low':'High')+' CXCL3 TPM'"}}}},
{"transform":[{"filter":"datum.t==0 && datum.g=='L'"}],"mark":{"type":"text","align":"right","baseline":"top","fontSize":6.2,"lineHeight":7.5,"color":"black","text":["Logrank p=0.51","HR(high)=1.1","p(HR)=0.51","n(high)=478","n(low)=480"]},"encoding":{"x":{"datum":246},"y":{"datum":0.91}}},
{"transform":[{"filter":"datum.t==0 && datum.g=='L'"}],"mark":{"type":"text","align":"center","baseline":"alphabetic","fontSize":8.7,"color":"black","text":"Overall Survival"},"encoding":{"x":{"datum":122.5},"y":{"datum":1.052}}},
{"transform":[{"filter":"datum.t==0 && datum.g=='L'"}],"mark":{"type":"text","align":"left","baseline":"alphabetic","fontSize":18.5,"fontWeight":"bold","color":"black","text":"C"},"encoding":{"x":{"datum":-50},"y":{"datum":1.067}}}
]},
{"width":157,"height":145,"data":{"name":"km"},"transform":[{"filter":"datum.p=='D'"}],"encoding":{"x":{"field":"t","type":"quantitative","scale":{"domain":[-9.8,254.8],"nice":false,"zero":false},"axis":{"values":[0,50,100,150,200,250],"title":"Months"}},"y":{"field":"s","type":"quantitative","scale":{"domain":[-0.04,1.04],"nice":false,"zero":false},"axis":{"values":[0,0.2,0.4,0.6,0.8,1],"format":".1f","title":"Percent survival"}}},"layer":[
{"mark":{"type":"line","interpolate":"step-after","strokeDash":[1,1.5],"strokeWidth":0.8},"encoding":{"y":{"field":"u","type":"quantitative"},"stroke":{"field":"g","type":"nominal","scale":{"domain":["H","L"],"range":["#ff8f8f","#8f8fff"]},"legend":null}}},
{"mark":{"type":"line","interpolate":"step-after","strokeDash":[1,1.5],"strokeWidth":0.8},"encoding":{"y":{"field":"l","type":"quantitative"},"stroke":{"field":"g","type":"nominal","scale":{"domain":["H","L"],"range":["#ff8f8f","#8f8fff"]},"legend":null}}},
{"mark":{"type":"line","interpolate":"step-after","strokeWidth":1.3},"encoding":{"color":{"field":"g","type":"nominal","scale":{"domain":["L","H"],"range":["#0000ff","#ff0000"]},"legend":{"title":null,"labelExpr":"(datum.label=='L'?'Low':'High')+' PF4 TPM'"}}}},
{"transform":[{"filter":"datum.c==1"}],"mark":{"type":"point","shape":"M0,-1V1M-1,0H1","size":16,"filled":false,"strokeWidth":0.9,"opacity":1},"encoding":{"color":{"field":"g","type":"nominal","scale":{"domain":["L","H"],"range":["#0000ff","#ff0000"]},"legend":{"title":null,"labelExpr":"(datum.label=='L'?'Low':'High')+' PF4 TPM'"}}}},
{"transform":[{"filter":"datum.t==0 && datum.g=='L'"}],"mark":{"type":"text","align":"right","baseline":"top","fontSize":6.2,"lineHeight":7.5,"color":"black","text":["Logrank p=0.51","HR(high)=1.1","p(HR)=0.52","n(high)=478","n(low)=474"]},"encoding":{"x":{"datum":246},"y":{"datum":0.91}}},
{"transform":[{"filter":"datum.t==0 && datum.g=='L'"}],"mark":{"type":"text","align":"center","baseline":"alphabetic","fontSize":8.7,"color":"black","text":"Overall Survival"},"encoding":{"x":{"datum":122.5},"y":{"datum":1.052}}},
{"transform":[{"filter":"datum.t==0 && datum.g=='L'"}],"mark":{"type":"text","align":"left","baseline":"alphabetic","fontSize":18.5,"fontWeight":"bold","color":"black","text":"D"},"encoding":{"x":{"datum":-50},"y":{"datum":1.067}}}
]},
{"width":157,"height":145,"data":{"name":"km"},"transform":[{"filter":"datum.p=='E'"}],"encoding":{"x":{"field":"t","type":"quantitative","scale":{"domain":[-9.8,254.8],"nice":false,"zero":false},"axis":{"values":[0,50,100,150,200,250],"title":"Months"}},"y":{"field":"s","type":"quantitative","scale":{"domain":[-0.04,1.04],"nice":false,"zero":false},"axis":{"values":[0,0.2,0.4,0.6,0.8,1],"format":".1f","title":"Percent survival"}}},"layer":[
{"mark":{"type":"line","interpolate":"step-after","strokeDash":[1,1.5],"strokeWidth":0.8},"encoding":{"y":{"field":"u","type":"quantitative"},"stroke":{"field":"g","type":"nominal","scale":{"domain":["H","L"],"range":["#ff8f8f","#8f8fff"]},"legend":null}}},
{"mark":{"type":"line","interpolate":"step-after","strokeDash":[1,1.5],"strokeWidth":0.8},"encoding":{"y":{"field":"l","type":"quantitative"},"stroke":{"field":"g","type":"nominal","scale":{"domain":["H","L"],"range":["#ff8f8f","#8f8fff"]},"legend":null}}},
{"mark":{"type":"line","interpolate":"step-after","strokeWidth":1.3},"encoding":{"color":{"field":"g","type":"nominal","scale":{"domain":["L","H"],"range":["#0000ff","#ff0000"]},"legend":{"title":null,"labelExpr":"(datum.label=='L'?'Low':'High')+' CXCL5 TPM'"}}}},
{"transform":[{"filter":"datum.c==1"}],"mark":{"type":"point","shape":"M0,-1V1M-1,0H1","size":16,"filled":false,"strokeWidth":0.9,"opacity":1},"encoding":{"color":{"field":"g","type":"nominal","scale":{"domain":["L","H"],"range":["#0000ff","#ff0000"]},"legend":{"title":null,"labelExpr":"(datum.label=='L'?'Low':'High')+' CXCL5 TPM'"}}}},
{"transform":[{"filter":"datum.t==0 && datum.g=='L'"}],"mark":{"type":"text","align":"right","baseline":"top","fontSize":6.2,"lineHeight":7.5,"color":"black","text":["Logrank p=0.25","HR(high)=1.1","p(HR)=0.25","n(high)=481","n(low)=481"]},"encoding":{"x":{"datum":246},"y":{"datum":0.91}}},
{"transform":[{"filter":"datum.t==0 && datum.g=='L'"}],"mark":{"type":"text","align":"center","baseline":"alphabetic","fontSize":8.7,"color":"black","text":"Overall Survival"},"encoding":{"x":{"datum":122.5},"y":{"datum":1.052}}},
{"transform":[{"filter":"datum.t==0 && datum.g=='L'"}],"mark":{"type":"text","align":"left","baseline":"alphabetic","fontSize":18.5,"fontWeight":"bold","color":"black","text":"E"},"encoding":{"x":{"datum":-50},"y":{"datum":1.067}}}
]},
{"width":157,"height":145,"data":{"name":"km"},"transform":[{"filter":"datum.p=='F'"}],"encoding":{"x":{"field":"t","type":"quantitative","scale":{"domain":[-9.8,254.8],"nice":false,"zero":false},"axis":{"values":[0,50,100,150,200,250],"title":"Months"}},"y":{"field":"s","type":"quantitative","scale":{"domain":[-0.04,1.04],"nice":false,"zero":false},"axis":{"values":[0,0.2,0.4,0.6,0.8,1],"format":".1f","title":"Percent survival"}}},"layer":[
{"mark":{"type":"line","interpolate":"step-after","strokeDash":[1,1.5],"strokeWidth":0.8},"encoding":{"y":{"field":"u","type":"quantitative"},"stroke":{"field":"g","type":"nominal","scale":{"domain":["H","L"],"range":["#ff8f8f","#8f8fff"]},"legend":null}}},
{"mark":{"type":"line","interpolate":"step-after","strokeDash":[1,1.5],"strokeWidth":0.8},"encoding":{"y":{"field":"l","type":"quantitative"},"stroke":{"field":"g","type":"nominal","scale":{"domain":["H","L"],"range":["#ff8f8f","#8f8fff"]},"legend":null}}},
{"mark":{"type":"line","interpolate":"step-after","strokeWidth":1.3},"encoding":{"color":{"field":"g","type":"nominal","scale":{"domain":["L","H"],"range":["#0000ff","#ff0000"]},"legend":{"title":null,"labelExpr":"(datum.label=='L'?'Low':'High')+' CXCL6 TPM'"}}}},
{"transform":[{"filter":"datum.c==1"}],"mark":{"type":"point","shape":"M0,-1V1M-1,0H1","size":16,"filled":false,"strokeWidth":0.9,"opacity":1},"encoding":{"color":{"field":"g","type":"nominal","scale":{"domain":["L","H"],"range":["#0000ff","#ff0000"]},"legend":{"title":null,"labelExpr":"(datum.label=='L'?'Low':'High')+' CXCL6 TPM'"}}}},
{"transform":[{"filter":"datum.t==0 && datum.g=='L'"}],"mark":{"type":"text","align":"right","baseline":"top","fontSize":6.2,"lineHeight":7.5,"color":"black","text":["Logrank p=0.77","HR(high)=1","p(HR)=0.77","n(high)=480","n(low)=480"]},"encoding":{"x":{"datum":246},"y":{"datum":0.91}}},
{"transform":[{"filter":"datum.t==0 && datum.g=='L'"}],"mark":{"type":"text","align":"center","baseline":"alphabetic","fontSize":8.7,"color":"black","text":"Overall Survival"},"encoding":{"x":{"datum":122.5},"y":{"datum":1.052}}},
{"transform":[{"filter":"datum.t==0 && datum.g=='L'"}],"mark":{"type":"text","align":"left","baseline":"alphabetic","fontSize":18.5,"fontWeight":"bold","color":"black","text":"F"},"encoding":{"x":{"datum":-50},"y":{"datum":1.067}}}
]},
{"width":157,"height":145,"data":{"name":"km"},"transform":[{"filter":"datum.p=='G'"}],"encoding":{"x":{"field":"t","type":"quantitative","scale":{"domain":[-9.8,254.8],"nice":false,"zero":false},"axis":{"values":[0,50,100,150,200,250],"title":"Months"}},"y":{"field":"s","type":"quantitative","scale":{"domain":[-0.04,1.04],"nice":false,"zero":false},"axis":{"values":[0,0.2,0.4,0.6,0.8,1],"format":".1f","title":"Percent survival"}}},"layer":[
{"mark":{"type":"line","interpolate":"step-after","strokeDash":[1,1.5],"strokeWidth":0.8},"encoding":{"y":{"field":"u","type":"quantitative"},"stroke":{"field":"g","type":"nominal","scale":{"domain":["H","L"],"range":["#ff8f8f","#8f8fff"]},"legend":null}}},
{"mark":{"type":"line","interpolate":"step-after","strokeDash":[1,1.5],"strokeWidth":0.8},"encoding":{"y":{"field":"l","type":"quantitative"},"stroke":{"field":"g","type":"nominal","scale":{"domain":["H","L"],"range":["#ff8f8f","#8f8fff"]},"legend":null}}},
{"mark":{"type":"line","interpolate":"step-after","strokeWidth":1.3},"encoding":{"color":{"field":"g","type":"nominal","scale":{"domain":["L","H"],"range":["#0000ff","#ff0000"]},"legend":{"title":null,"labelExpr":"(datum.label=='L'?'Low':'High')+' PPBP TPM'"}}}},
{"transform":[{"filter":"datum.c==1"}],"mark":{"type":"point","shape":"M0,-1V1M-1,0H1","size":16,"filled":false,"strokeWidth":0.9,"opacity":1},"encoding":{"color":{"field":"g","type":"nominal","scale":{"domain":["L","H"],"range":["#0000ff","#ff0000"]},"legend":{"title":null,"labelExpr":"(datum.label=='L'?'Low':'High')+' PPBP TPM'"}}}},
{"transform":[{"filter":"datum.t==0 && datum.g=='L'"}],"mark":{"type":"text","align":"right","baseline":"top","fontSize":6.2,"lineHeight":7.5,"color":"black","text":["Logrank p=0.017","HR(high)=1.3","p(HR)=0.017","n(high)=477","n(low)=476"]},"encoding":{"x":{"datum":246},"y":{"datum":0.91}}},
{"transform":[{"filter":"datum.t==0 && datum.g=='L'"}],"mark":{"type":"text","align":"center","baseline":"alphabetic","fontSize":8.7,"color":"black","text":"Overall Survival"},"encoding":{"x":{"datum":122.5},"y":{"datum":1.052}}},
{"transform":[{"filter":"datum.t==0 && datum.g=='L'"}],"mark":{"type":"text","align":"left","baseline":"alphabetic","fontSize":18.5,"fontWeight":"bold","color":"black","text":"G"},"encoding":{"x":{"datum":-50},"y":{"datum":1.067}}}
]},
{"width":157,"height":145,"data":{"name":"km"},"transform":[{"filter":"datum.p=='H'"}],"encoding":{"x":{"field":"t","type":"quantitative","scale":{"domain":[-9.8,254.8],"nice":false,"zero":false},"axis":{"values":[0,50,100,150,200,250],"title":"Months"}},"y":{"field":"s","type":"quantitative","scale":{"domain":[-0.04,1.04],"nice":false,"zero":false},"axis":{"values":[0,0.2,0.4,0.6,0.8,1],"format":".1f","title":"Percent survival"}}},"layer":[
{"mark":{"type":"line","interpolate":"step-after","strokeDash":[1,1.5],"strokeWidth":0.8},"encoding":{"y":{"field":"u","type":"quantitative"},"stroke":{"field":"g","type":"nominal","scale":{"domain":["H","L"],"range":["#ff8f8f","#8f8fff"]},"legend":null}}},
{"mark":{"type":"line","interpolate":"step-after","strokeDash":[1,1.5],"strokeWidth":0.8},"encoding":{"y":{"field":"l","type":"quantitative"},"stroke":{"field":"g","type":"nominal","scale":{"domain":["H","L"],"range":["#ff8f8f","#8f8fff"]},"legend":null}}},
{"mark":{"type":"line","interpolate":"step-after","strokeWidth":1.3},"encoding":{"color":{"field":"g","type":"nominal","scale":{"domain":["L","H"],"range":["#0000ff","#ff0000"]},"legend":{"title":null,"labelExpr":"(datum.label=='L'?'Low':'High')+' CXCL9 TPM'"}}}},
{"transform":[{"filter":"datum.c==1"}],"mark":{"type":"point","shape":"M0,-1V1M-1,0H1","size":16,"filled":false,"strokeWidth":0.9,"opacity":1},"encoding":{"color":{"field":"g","type":"nominal","scale":{"domain":["L","H"],"range":["#0000ff","#ff0000"]},"legend":{"title":null,"labelExpr":"(datum.label=='L'?'Low':'High')+' CXCL9 TPM'"}}}},
{"transform":[{"filter":"datum.t==0 && datum.g=='L'"}],"mark":{"type":"text","align":"right","baseline":"top","fontSize":6.2,"lineHeight":7.5,"color":"black","text":["Logrank p=0.82","HR(high)=0.98","p(HR)=0.82","n(high)=481","n(low)=481"]},"encoding":{"x":{"datum":246},"y":{"datum":0.91}}},
{"transform":[{"filter":"datum.t==0 && datum.g=='L'"}],"mark":{"type":"text","align":"center","baseline":"alphabetic","fontSize":8.7,"color":"black","text":"Overall Survival"},"encoding":{"x":{"datum":122.5},"y":{"datum":1.052}}},
{"transform":[{"filter":"datum.t==0 && datum.g=='L'"}],"mark":{"type":"text","align":"left","baseline":"alphabetic","fontSize":18.5,"fontWeight":"bold","color":"black","text":"H"},"encoding":{"x":{"datum":-50},"y":{"datum":1.067}}}
]},
{"width":157,"height":145,"data":{"name":"km"},"transform":[{"filter":"datum.p=='I'"}],"encoding":{"x":{"field":"t","type":"quantitative","scale":{"domain":[-9.8,254.8],"nice":false,"zero":false},"axis":{"values":[0,50,100,150,200,250],"title":"Months"}},"y":{"field":"s","type":"quantitative","scale":{"domain":[-0.04,1.04],"nice":false,"zero":false},"axis":{"values":[0,0.2,0.4,0.6,0.8,1],"format":".1f","title":"Percent survival"}}},"layer":[
{"mark":{"type":"line","interpolate":"step-after","strokeDash":[1,1.5],"strokeWidth":0.8},"encoding":{"y":{"field":"u","type":"quantitative"},"stroke":{"field":"g","type":"nominal","scale":{"domain":["H","L"],"range":["#ff8f8f","#8f8fff"]},"legend":null}}},
{"mark":{"type":"line","interpolate":"step-after","strokeDash":[1,1.5],"strokeWidth":0.8},"encoding":{"y":{"field":"l","type":"quantitative"},"stroke":{"field":"g","type":"nominal","scale":{"domain":["H","L"],"range":["#ff8f8f","#8f8fff"]},"legend":null}}},
{"mark":{"type":"line","interpolate":"step-after","strokeWidth":1.3},"encoding":{"color":{"field":"g","type":"nominal","scale":{"domain":["L","H"],"range":["#0000ff","#ff0000"]},"legend":{"title":null,"labelExpr":"(datum.label=='L'?'Low':'High')+' CXCL10 TPM'"}}}},
{"transform":[{"filter":"datum.c==1"}],"mark":{"type":"point","shape":"M0,-1V1M-1,0H1","size":16,"filled":false,"strokeWidth":0.9,"opacity":1},"encoding":{"color":{"field":"g","type":"nominal","scale":{"domain":["L","H"],"range":["#0000ff","#ff0000"]},"legend":{"title":null,"labelExpr":"(datum.label=='L'?'Low':'High')+' CXCL10 TPM'"}}}},
{"transform":[{"filter":"datum.t==0 && datum.g=='L'"}],"mark":{"type":"text","align":"right","baseline":"top","fontSize":6.2,"lineHeight":7.5,"color":"black","text":["Logrank p=0.61","HR(high)=1.1","p(HR)=0.6","n(high)=481","n(low)=481"]},"encoding":{"x":{"datum":246},"y":{"datum":0.91}}},
{"transform":[{"filter":"datum.t==0 && datum.g=='L'"}],"mark":{"type":"text","align":"center","baseline":"alphabetic","fontSize":8.7,"color":"black","text":"Overall Survival"},"encoding":{"x":{"datum":122.5},"y":{"datum":1.052}}},
{"transform":[{"filter":"datum.t==0 && datum.g=='L'"}],"mark":{"type":"text","align":"left","baseline":"alphabetic","fontSize":18.5,"fontWeight":"bold","color":"black","text":"I"},"encoding":{"x":{"datum":-50},"y":{"datum":1.067}}}
]},
{"width":157,"height":145,"data":{"name":"km"},"transform":[{"filter":"datum.p=='J'"}],"encoding":{"x":{"field":"t","type":"quantitative","scale":{"domain":[-9.8,254.8],"nice":false,"zero":false},"axis":{"values":[0,50,100,150,200,250],"title":"Months"}},"y":{"field":"s","type":"quantitative","scale":{"domain":[-0.04,1.04],"nice":false,"zero":false},"axis":{"values":[0,0.2,0.4,0.6,0.8,1],"format":".1f","title":"Percent survival"}}},"layer":[
{"mark":{"type":"line","interpolate":"step-after","strokeDash":[1,1.5],"strokeWidth":0.8},"encoding":{"y":{"field":"u","type":"quantitative"},"stroke":{"field":"g","type":"nominal","scale":{"domain":["H","L"],"range":["#ff8f8f","#8f8fff"]},"legend":null}}},
{"mark":{"type":"line","interpolate":"step-after","strokeDash":[1,1.5],"strokeWidth":0.8},"encoding":{"y":{"field":"l","type":"quantitative"},"stroke":{"field":"g","type":"nominal","scale":{"domain":["H","L"],"range":["#ff8f8f","#8f8fff"]},"legend":null}}},
{"mark":{"type":"line","interpolate":"step-after","strokeWidth":1.3},"encoding":{"color":{"field":"g","type":"nominal","scale":{"domain":["L","H"],"range":["#0000ff","#ff0000"]},"legend":{"title":null,"labelExpr":"(datum.label=='L'?'Low':'High')+' CXCL11 TPM'"}}}},
{"transform":[{"filter":"datum.c==1"}],"mark":{"type":"point","shape":"M0,-1V1M-1,0H1","size":16,"filled":false,"strokeWidth":0.9,"opacity":1},"encoding":{"color":{"field":"g","type":"nominal","scale":{"domain":["L","H"],"range":["#0000ff","#ff0000"]},"legend":{"title":null,"labelExpr":"(datum.label=='L'?'Low':'High')+' CXCL11 TPM'"}}}},
{"transform":[{"filter":"datum.t==0 && datum.g=='L'"}],"mark":{"type":"text","align":"right","baseline":"top","fontSize":6.2,"lineHeight":7.5,"color":"black","text":["Logrank p=0.75","HR(high)=1","p(HR)=0.75","n(high)=481","n(low)=481"]},"encoding":{"x":{"datum":246},"y":{"datum":0.91}}},
{"transform":[{"filter":"datum.t==0 && datum.g=='L'"}],"mark":{"type":"text","align":"center","baseline":"alphabetic","fontSize":8.7,"color":"black","text":"Overall Survival"},"encoding":{"x":{"datum":122.5},"y":{"datum":1.052}}},
{"transform":[{"filter":"datum.t==0 && datum.g=='L'"}],"mark":{"type":"text","align":"left","baseline":"alphabetic","fontSize":18.5,"fontWeight":"bold","color":"black","text":"J"},"encoding":{"x":{"datum":-50},"y":{"datum":1.067}}}
]},
{"width":157,"height":145,"data":{"name":"km"},"transform":[{"filter":"datum.p=='K'"}],"encoding":{"x":{"field":"t","type":"quantitative","scale":{"domain":[-9.8,254.8],"nice":false,"zero":false},"axis":{"values":[0,50,100,150,200,250],"title":"Months"}},"y":{"field":"s","type":"quantitative","scale":{"domain":[-0.04,1.04],"nice":false,"zero":false},"axis":{"values":[0,0.2,0.4,0.6,0.8,1],"format":".1f","title":"Percent survival"}}},"layer":[
{"mark":{"type":"line","interpolate":"step-after","strokeDash":[1,1.5],"strokeWidth":0.8},"encoding":{"y":{"field":"u","type":"quantitative"},"stroke":{"field":"g","type":"nominal","scale":{"domain":["H","L"],"range":["#ff8f8f","#8f8fff"]},"legend":null}}},
{"mark":{"type":"line","interpolate":"step-after","strokeDash":[1,1.5],"strokeWidth":0.8},"encoding":{"y":{"field":"l","type":"quantitative"},"stroke":{"field":"g","type":"nominal","scale":{"domain":["H","L"],"range":["#ff8f8f","#8f8fff"]},"legend":null}}},
{"mark":{"type":"line","interpolate":"step-after","strokeWidth":1.3},"encoding":{"color":{"field":"g","type":"nominal","scale":{"domain":["L","H"],"range":["#0000ff","#ff0000"]},"legend":{"title":null,"labelExpr":"(datum.label=='L'?'Low':'High')+' CXCL12 TPM'"}}}},
{"transform":[{"filter":"datum.c==1"}],"mark":{"type":"point","shape":"M0,-1V1M-1,0H1","size":16,"filled":false,"strokeWidth":0.9,"opacity":1},"encoding":{"color":{"field":"g","type":"nominal","scale":{"domain":["L","H"],"range":["#0000ff","#ff0000"]},"legend":{"title":null,"labelExpr":"(datum.label=='L'?'Low':'High')+' CXCL12 TPM'"}}}},
{"transform":[{"filter":"datum.t==0 && datum.g=='L'"}],"mark":{"type":"text","align":"right","baseline":"top","fontSize":6.2,"lineHeight":7.5,"color":"black","text":["Logrank p=0.48","HR(high)=1.1","p(HR)=0.48","n(high)=481","n(low)=481"]},"encoding":{"x":{"datum":246},"y":{"datum":0.91}}},
{"transform":[{"filter":"datum.t==0 && datum.g=='L'"}],"mark":{"type":"text","align":"center","baseline":"alphabetic","fontSize":8.7,"color":"black","text":"Overall Survival"},"encoding":{"x":{"datum":122.5},"y":{"datum":1.052}}},
{"transform":[{"filter":"datum.t==0 && datum.g=='L'"}],"mark":{"type":"text","align":"left","baseline":"alphabetic","fontSize":18.5,"fontWeight":"bold","color":"black","text":"K"},"encoding":{"x":{"datum":-50},"y":{"datum":1.067}}}
]},
{"width":157,"height":145,"data":{"name":"km"},"transform":[{"filter":"datum.p=='L'"}],"encoding":{"x":{"field":"t","type":"quantitative","scale":{"domain":[-9.8,254.8],"nice":false,"zero":false},"axis":{"values":[0,50,100,150,200,250],"title":"Months"}},"y":{"field":"s","type":"quantitative","scale":{"domain":[-0.04,1.04],"nice":false,"zero":false},"axis":{"values":[0,0.2,0.4,0.6,0.8,1],"format":".1f","title":"Percent survival"}}},"layer":[
{"mark":{"type":"line","interpolate":"step-after","strokeDash":[1,1.5],"strokeWidth":0.8},"encoding":{"y":{"field":"u","type":"quantitative"},"stroke":{"field":"g","type":"nominal","scale":{"domain":["H","L"],"range":["#ff8f8f","#8f8fff"]},"legend":null}}},
{"mark":{"type":"line","interpolate":"step-after","strokeDash":[1,1.5],"strokeWidth":0.8},"encoding":{"y":{"field":"l","type":"quantitative"},"stroke":{"field":"g","type":"nominal","scale":{"domain":["H","L"],"range":["#ff8f8f","#8f8fff"]},"legend":null}}},
{"mark":{"type":"line","interpolate":"step-after","strokeWidth":1.3},"encoding":{"color":{"field":"g","type":"nominal","scale":{"domain":["L","H"],"range":["#0000ff","#ff0000"]},"legend":{"title":null,"labelExpr":"(datum.label=='L'?'Low':'High')+' CXCL13 TPM'"}}}},
{"transform":[{"filter":"datum.c==1"}],"mark":{"type":"point","shape":"M0,-1V1M-1,0H1","size":16,"filled":false,"strokeWidth":0.9,"opacity":1},"encoding":{"color":{"field":"g","type":"nominal","scale":{"domain":["L","H"],"range":["#0000ff","#ff0000"]},"legend":{"title":null,"labelExpr":"(datum.label=='L'?'Low':'High')+' CXCL13 TPM'"}}}},
{"transform":[{"filter":"datum.t==0 && datum.g=='L'"}],"mark":{"type":"text","align":"right","baseline":"top","fontSize":6.2,"lineHeight":7.5,"color":"black","text":["Logrank p=0.67","HR(high)=0.96","p(HR)=0.67","n(high)=481","n(low)=481"]},"encoding":{"x":{"datum":246},"y":{"datum":0.91}}},
{"transform":[{"filter":"datum.t==0 && datum.g=='L'"}],"mark":{"type":"text","align":"center","baseline":"alphabetic","fontSize":8.7,"color":"black","text":"Overall Survival"},"encoding":{"x":{"datum":122.5},"y":{"datum":1.052}}},
{"transform":[{"filter":"datum.t==0 && datum.g=='L'"}],"mark":{"type":"text","align":"left","baseline":"alphabetic","fontSize":18.5,"fontWeight":"bold","color":"black","text":"L"},"encoding":{"x":{"datum":-50},"y":{"datum":1.067}}}
]},
{"width":157,"height":145,"data":{"name":"km"},"transform":[{"filter":"datum.p=='M'"}],"encoding":{"x":{"field":"t","type":"quantitative","scale":{"domain":[-9.8,254.8],"nice":false,"zero":false},"axis":{"values":[0,50,100,150,200,250],"title":"Months"}},"y":{"field":"s","type":"quantitative","scale":{"domain":[-0.04,1.04],"nice":false,"zero":false},"axis":{"values":[0,0.2,0.4,0.6,0.8,1],"format":".1f","title":"Percent survival"}}},"layer":[
{"mark":{"type":"line","interpolate":"step-after","strokeDash":[1,1.5],"strokeWidth":0.8},"encoding":{"y":{"field":"u","type":"quantitative"},"stroke":{"field":"g","type":"nominal","scale":{"domain":["H","L"],"range":["#ff8f8f","#8f8fff"]},"legend":null}}},
{"mark":{"type":"line","interpolate":"step-after","strokeDash":[1,1.5],"strokeWidth":0.8},"encoding":{"y":{"field":"l","type":"quantitative"},"stroke":{"field":"g","type":"nominal","scale":{"domain":["H","L"],"range":["#ff8f8f","#8f8fff"]},"legend":null}}},
{"mark":{"type":"line","interpolate":"step-after","strokeWidth":1.3},"encoding":{"color":{"field":"g","type":"nominal","scale":{"domain":["L","H"],"range":["#0000ff","#ff0000"]},"legend":{"title":null,"labelExpr":"(datum.label=='L'?'Low':'High')+' CXCL14 TPM'"}}}},
{"transform":[{"filter":"datum.c==1"}],"mark":{"type":"point","shape":"M0,-1V1M-1,0H1","size":16,"filled":false,"strokeWidth":0.9,"opacity":1},"encoding":{"color":{"field":"g","type":"nominal","scale":{"domain":["L","H"],"range":["#0000ff","#ff0000"]},"legend":{"title":null,"labelExpr":"(datum.label=='L'?'Low':'High')+' CXCL14 TPM'"}}}},
{"transform":[{"filter":"datum.t==0 && datum.g=='L'"}],"mark":{"type":"text","align":"right","baseline":"top","fontSize":6.2,"lineHeight":7.5,"color":"black","text":["Logrank p=0.45","HR(high)=1.1","p(HR)=0.45","n(high)=481","n(low)=481"]},"encoding":{"x":{"datum":246},"y":{"datum":0.91}}},
{"transform":[{"filter":"datum.t==0 && datum.g=='L'"}],"mark":{"type":"text","align":"center","baseline":"alphabetic","fontSize":8.7,"color":"black","text":"Overall Survival"},"encoding":{"x":{"datum":122.5},"y":{"datum":1.052}}},
{"transform":[{"filter":"datum.t==0 && datum.g=='L'"}],"mark":{"type":"text","align":"left","baseline":"alphabetic","fontSize":18.5,"fontWeight":"bold","color":"black","text":"M"},"encoding":{"x":{"datum":-50},"y":{"datum":1.067}}}
]},
{"width":157,"height":145,"data":{"name":"km"},"transform":[{"filter":"datum.p=='N'"}],"encoding":{"x":{"field":"t","type":"quantitative","scale":{"domain":[-9.8,254.8],"nice":false,"zero":false},"axis":{"values":[0,50,100,150,200,250],"title":"Months"}},"y":{"field":"s","type":"quantitative","scale":{"domain":[-0.04,1.04],"nice":false,"zero":false},"axis":{"values":[0,0.2,0.4,0.6,0.8,1],"format":".1f","title":"Percent survival"}}},"layer":[
{"mark":{"type":"line","interpolate":"step-after","strokeDash":[1,1.5],"strokeWidth":0.8},"encoding":{"y":{"field":"u","type":"quantitative"},"stroke":{"field":"g","type":"nominal","scale":{"domain":["H","L"],"range":["#ff8f8f","#8f8fff"]},"legend":null}}},
{"mark":{"type":"line","interpolate":"step-after","strokeDash":[1,1.5],"strokeWidth":0.8},"encoding":{"y":{"field":"l","type":"quantitative"},"stroke":{"field":"g","type":"nominal","scale":{"domain":["H","L"],"range":["#ff8f8f","#8f8fff"]},"legend":null}}},
{"mark":{"type":"line","interpolate":"step-after","strokeWidth":1.3},"encoding":{"color":{"field":"g","type":"nominal","scale":{"domain":["L","H"],"range":["#0000ff","#ff0000"]},"legend":{"title":null,"labelExpr":"(datum.label=='L'?'Low':'High')+' CXCL16 TPM'"}}}},
{"transform":[{"filter":"datum.c==1"}],"mark":{"type":"point","shape":"M0,-1V1M-1,0H1","size":16,"filled":false,"strokeWidth":0.9,"opacity":1},"encoding":{"color":{"field":"g","type":"nominal","scale":{"domain":["L","H"],"range":["#0000ff","#ff0000"]},"legend":{"title":null,"labelExpr":"(datum.label=='L'?'Low':'High')+' CXCL16 TPM'"}}}},
{"transform":[{"filter":"datum.t==0 && datum.g=='L'"}],"mark":{"type":"text","align":"right","baseline":"top","fontSize":6.2,"lineHeight":7.5,"color":"black","text":["Logrank p=0.79","HR(high)=0.97","p(HR)=0.8","n(high)=481","n(low)=481"]},"encoding":{"x":{"datum":246},"y":{"datum":0.91}}},
{"transform":[{"filter":"datum.t==0 && datum.g=='L'"}],"mark":{"type":"text","align":"center","baseline":"alphabetic","fontSize":8.7,"color":"black","text":"Overall Survival"},"encoding":{"x":{"datum":122.5},"y":{"datum":1.052}}},
{"transform":[{"filter":"datum.t==0 && datum.g=='L'"}],"mark":{"type":"text","align":"left","baseline":"alphabetic","fontSize":18.5,"fontWeight":"bold","color":"black","text":"N"},"encoding":{"x":{"datum":-50},"y":{"datum":1.067}}}
]},
{"width":157,"height":145,"data":{"name":"km"},"transform":[{"filter":"datum.p=='O'"}],"encoding":{"x":{"field":"t","type":"quantitative","scale":{"domain":[-9.8,254.8],"nice":false,"zero":false},"axis":{"values":[0,50,100,150,200,250],"title":"Months"}},"y":{"field":"s","type":"quantitative","scale":{"domain":[-0.04,1.04],"nice":false,"zero":false},"axis":{"values":[0,0.2,0.4,0.6,0.8,1],"format":".1f","title":"Percent survival"}}},"layer":[
{"mark":{"type":"line","interpolate":"step-after","strokeDash":[1,1.5],"strokeWidth":0.8},"encoding":{"y":{"field":"u","type":"quantitative"},"stroke":{"field":"g","type":"nominal","scale":{"domain":["H","L"],"range":["#ff8f8f","#8f8fff"]},"legend":null}}},
{"mark":{"type":"line","interpolate":"step-after","strokeDash":[1,1.5],"strokeWidth":0.8},"encoding":{"y":{"field":"l","type":"quantitative"},"stroke":{"field":"g","type":"nominal","scale":{"domain":["H","L"],"range":["#ff8f8f","#8f8fff"]},"legend":null}}},
{"mark":{"type":"line","interpolate":"step-after","strokeWidth":1.3},"encoding":{"color":{"field":"g","type":"nominal","scale":{"domain":["L","H"],"range":["#0000ff","#ff0000"]},"legend":{"title":null,"labelExpr":"(datum.label=='L'?'Low':'High')+' CXCL17 TPM'"}}}},
{"transform":[{"filter":"datum.c==1"}],"mark":{"type":"point","shape":"M0,-1V1M-1,0H1","size":16,"filled":false,"strokeWidth":0.9,"opacity":1},"encoding":{"color":{"field":"g","type":"nominal","scale":{"domain":["L","H"],"range":["#0000ff","#ff0000"]},"legend":{"title":null,"labelExpr":"(datum.label=='L'?'Low':'High')+' CXCL17 TPM'"}}}},
{"transform":[{"filter":"datum.t==0 && datum.g=='L'"}],"mark":{"type":"text","align":"right","baseline":"top","fontSize":6.2,"lineHeight":7.5,"color":"black","text":["Logrank p=0.00041","HR(high)=0.7","p(HR)=0.00045","n(high)=481","n(low)=481"]},"encoding":{"x":{"datum":246},"y":{"datum":0.91}}},
{"transform":[{"filter":"datum.t==0 && datum.g=='L'"}],"mark":{"type":"text","align":"center","baseline":"alphabetic","fontSize":8.7,"color":"black","text":"Overall Survival"},"encoding":{"x":{"datum":122.5},"y":{"datum":1.052}}},
{"transform":[{"filter":"datum.t==0 && datum.g=='L'"}],"mark":{"type":"text","align":"left","baseline":"alphabetic","fontSize":18.5,"fontWeight":"bold","color":"black","text":"O"},"encoding":{"x":{"datum":-50},"y":{"datum":1.067}}}
]}
]
}
